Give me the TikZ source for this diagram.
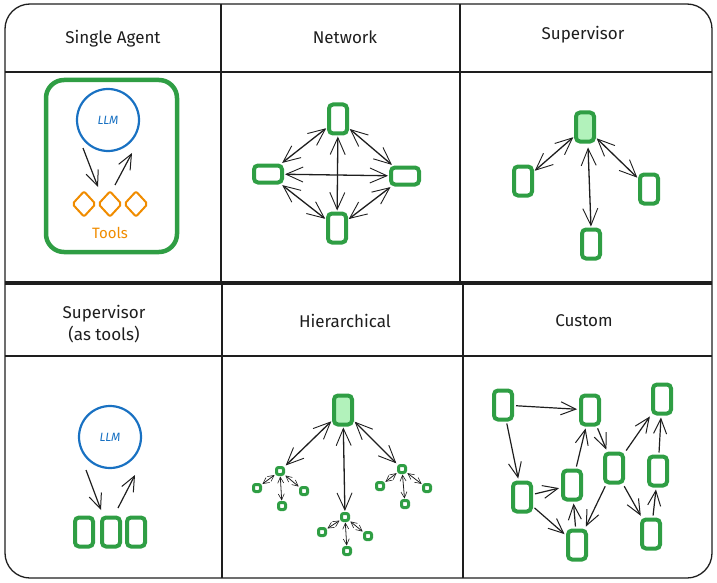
\documentclass[tikz,border=0pt]{standalone}
\usepackage{fontspec}
\setmainfont{Fira Sans}
\usetikzlibrary{arrows.meta,shapes.geometric}
\definecolor{ink}{HTML}{1E1E1E}
\definecolor{agreen}{HTML}{2F9E44}
\definecolor{lgreen}{HTML}{B2F2BB}
\definecolor{ablue}{HTML}{1971C2}
\definecolor{aorange}{HTML}{F08C00}
\begin{document}
\begin{tikzpicture}[x=1pt,y=-1pt,
  frame/.style={draw=ink, line width=1.3pt},
  title/.style={font=\fontsize{17}{22}\selectfont, text=ink, align=center},
  agv/.style={draw=agreen, fill=white, line width=4pt, rounded corners=4pt, inner sep=0pt, minimum width=18pt, minimum height=29pt},
  agh/.style={agv, minimum width=28pt, minimum height=17pt},
  agsup/.style={agv, fill=lgreen},
  agsm/.style={draw=agreen, fill=white, line width=3pt, rounded corners=2pt, inner sep=0pt, minimum size=7pt},
  llm/.style={circle, draw=ablue, line width=2.2pt, minimum size=62pt, inner sep=0pt, text=ablue, font=\itshape\fontsize{12}{14}\selectfont},
  tool/.style={diamond, draw=aorange, line width=2pt, rounded corners=2pt, minimum width=24pt, minimum height=26pt, inner sep=0pt},
  bi/.style={draw=ink, line width=1.3pt, {Straight Barb[length=17pt,width=15pt,line width=0.9pt]}-{Straight Barb[length=17pt,width=15pt,line width=0.9pt]}, shorten >=1pt, shorten <=1pt},
  one/.style={draw=ink, line width=1.2pt, -{Straight Barb[length=15pt,width=13pt,line width=1pt]}, shorten >=2pt, shorten <=2pt},
  tiny/.style={draw=ink, line width=0.8pt, {Straight Barb[length=6pt,width=6pt,line width=0.6pt]}-{Straight Barb[length=6pt,width=6pt,line width=0.6pt]}, shorten >=0.5pt, shorten <=0.5pt}
]
\useasboundingbox (0,0) rectangle (717,583);
% frame
\draw[frame, rounded corners=25pt] (5,4) rectangle (712,578);
\draw[frame] (5,72) -- (712,72);
\draw[frame] (5,356) -- (712,356);
\draw[frame] (221,4) -- (221,283);
\draw[frame] (460,4) -- (460,283);
\draw[frame] (222,283) -- (222,578);
\draw[frame] (463,283) -- (463,578);
\draw[draw=ink, line width=4pt] (5,283) -- (712,283);
% titles
\node[title] (t1) at (113,39) {Single Agent};
\node[title] (t2) at (345,37) {Network};
\node[title] (t3) at (583,35) {Supervisor};
\node[title] (t4) at (104,324) {Supervisor\\(as tools)};
\node[title] (t5) at (345,321) {Hierarchical};
\node[title] (t6) at (584,321) {Custom};
% single agent
\draw[draw=agreen, line width=4.5pt, rounded corners=18pt] (46,80) rectangle (177,252);
\node[llm] (l1) at (108,120) {LLM};
\node[tool] (d1) at (84,204) {};
\node[tool] (d2) at (110,204) {};
\node[tool] (d3) at (136,204) {};
\node[text=aorange, font=\fontsize{15}{17}\selectfont] (tl) at (110,233) {Tools};
\coordinate (a1s) at (83,148); \coordinate (a1e) at (98,187);
\coordinate (a2s) at (115,185); \coordinate (a2e) at (132,153);
\draw[one, shorten >=0pt, shorten <=0pt] (a1s) -- (a1e);
\draw[one, shorten >=0pt, shorten <=0pt] (a2s) -- (a2e);
% network
\node[agv] (nt) at (338,119) {};
\node[agh] (nl) at (268,174) {};
\node[agh] (nr) at (405,176) {};
\node[agv] (nb) at (337,228) {};
\draw[bi] (nt) -- (nl);
\draw[bi] (nt) -- (nr);
\draw[bi] (nb) -- (nl);
\draw[bi] (nb) -- (nr);
\draw[bi] (nl) -- (nr);
\draw[bi] (nt) -- (nb);
% supervisor
\node[agsup] (st) at (585,127) {};
\node[agv] (sl) at (523,181) {};
\node[agv] (sr) at (649,189) {};
\node[agv] (sb) at (591,244) {};
\draw[bi] (st) -- (sl);
\draw[bi] (st) -- (sr);
\draw[bi] (st.south) ++(3,3) coordinate (stb) (stb) -- (sb.north) ;
% supervisor as tools
\node[llm] (l2) at (110,437) {LLM};
\node[agv] (g1) at (84,532) {};
\node[agv] (g2) at (111,532) {};
\node[agv] (g3) at (136,532) {};
\coordinate (b1s) at (86,470); \coordinate (b1e) at (101,510);
\coordinate (b2s) at (118,508); \coordinate (b2e) at (135,475);
\draw[one, shorten >=0pt, shorten <=0pt] (b1s) -- (b1e);
\draw[one, shorten >=0pt, shorten <=0pt] (b2s) -- (b2e);
% hierarchical
\node[agsup] (ht) at (343,410) {};
\node[agsm] (hl) at (280,471) {};
\node[agsm] (hr) at (402,469) {};
\node[agsm] (hm) at (345,517) {};
\node[agsm] (hl1) at (257,488) {};
\node[agsm] (hl2) at (304,491) {};
\node[agsm] (hl3) at (282,506) {};
\node[agsm] (hr1) at (380,486) {};
\node[agsm] (hr2) at (427,488) {};
\node[agsm] (hr3) at (405,504) {};
\node[agsm] (hm1) at (322,532) {};
\node[agsm] (hm2) at (368,536) {};
\node[agsm] (hm3) at (347,551) {};
\draw[bi] (ht) -- (hl);
\draw[bi] (ht) -- (hr);
\draw[bi] (ht) -- (hm);
\foreach \p in {hl,hr,hm}{
  \draw[tiny] (\p) -- (\p1);
  \draw[tiny] (\p) -- (\p2);
  \draw[tiny] (\p) -- (\p3);
}
% custom
\node[agv] (cA) at (503,405) {};
\node[agv] (cB) at (590,410) {};
\node[agv] (cC) at (662,399) {};
\node[agv] (cD) at (522,497) {};
\node[agv] (cE) at (572,485) {};
\node[agv] (cF) at (614,468) {};
\node[agv] (cG) at (658,471) {};
\node[agv] (cH) at (577,545) {};
\node[agv] (cI) at (651,534) {};
\draw[one] (cA) -- (cB);
\draw[one] (cA) -- (cD);
\draw[one] (cD) -- (cE);
\draw[one] (cD) -- (cH);
\draw[one] (cH) -- (cE);
\draw[one] (cE) -- (cB);
\draw[one] (cB) -- (cF);
\draw[one] (cF) -- (cH);
\draw[one] (cF) -- (cC);
\draw[one] (cF) -- (cI);
\draw[one] (cI) -- (cG);
\draw[one] (cG) -- (cC);
\end{tikzpicture}
\end{document}
